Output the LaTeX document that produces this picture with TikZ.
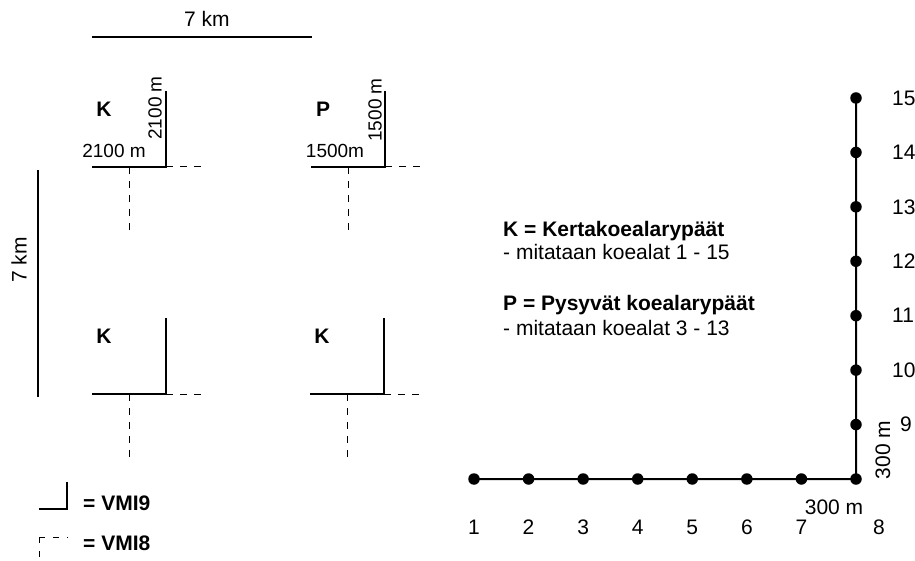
\documentclass[tikz,border=0pt]{standalone}
\usepackage{fontspec}
\setmainfont{Liberation Sans}
\usetikzlibrary{positioning}

\begin{document}
\begin{tikzpicture}[x=1pt,y=-1pt,
                    every node/.style={font=\fontsize{21}{25}\selectfont, inner sep=0pt},
                    vmi9/.style={line width=2.2pt},
                    vmi8/.style={line width=1pt, dash pattern=on 7pt off 7pt},
                    koeala/.style={circle, fill=black, minimum size=11.5pt, inner sep=0pt},
                    tunnus/.style={font=\fontsize{21}{25}\selectfont\bfseries},
                    mitta/.style={font=\fontsize{19}{23}\selectfont}]
  \useasboundingbox (0,0) rectangle (915,561);

    % mittakaavat
    \coordinate (ylavasen) at (92,37);
    \coordinate (ylaoikea) at (312,37);
    \coordinate (vasylos) at (38,170);
    \coordinate (vasalas) at (38,397);
    \draw[line width=1.8pt] (ylavasen) -- (ylaoikea);
    \draw[line width=1.8pt] (vasylos) -- (vasalas);
    \node (km1) at (207,19) {7 km};
    \node[rotate=90] (km2) at (19,260) {7 km};

    % rypaat
    \foreach \x/\y/\nimi/\kirjain in {166/167/kl/K, 385/167/pl/P, 166/394/ka/K, 384/394/pa/K} {
      \coordinate (\nimi) at (\x,\y);
      \draw[vmi9] (\nimi) ++(-74,0) -- (\nimi) -- ++(0,-76);
      \draw[vmi8] (\nimi) -- ++(39,0);
      \draw[vmi8] (\nimi) ++(-37,0) -- ++(0,68);
      \node[tunnus] (\nimi-k) at (\x-62,\y-58) {\kirjain};
    }
    \node[mitta, rotate=90] (kl-pysty) at (155,108) {2100 m};
    \node[mitta, anchor=base] (kl-vaaka) at (114,158) {2100 m};
    \node[mitta, rotate=90] (pl-pysty) at (375,110) {1500 m};
    \node[mitta, anchor=base] (pl-vaaka) at (335,158) {1500m};

    % selitteet
    \coordinate (l9a) at (39,509);
    \coordinate (l9b) at (67,509);
    \coordinate (l9c) at (67,482);
    \draw[vmi9] (l9a) -- (l9b) -- (l9c);
    \node[tunnus, anchor=base west] (vmi9) at (83,510) {= VMI9};
    \coordinate (l8a) at (39,561);
    \coordinate (l8b) at (39,537);
    \coordinate (l8c) at (68,537);
    \draw[vmi8, dash pattern=on 6pt off 8pt] (l8b) -- (l8a);
    \draw[vmi8, dash pattern=on 6pt off 8pt] (l8b) -- (l8c);
    \node[tunnus, anchor=base west] (vmi8) at (83,550) {= VMI8};

    \node[tunnus, anchor=base west] (kselite) at (503,237) {K = Kertakoealarypäät};
    \node[anchor=base west] (kmit) at (503,260) {- mitataan koealat 1 - 15};
    \node[tunnus, anchor=base west] (pselite) at (503,310) {P = Pysyvät koealarypäät};
    \node[anchor=base west] (pmit) at (503,335) {- mitataan koealat 3 - 13};

    % koealat
    \foreach \i in {1,...,8}
      \node[koeala] (p\i) at ({474+(\i-1)*54.57},479) {};
    \foreach \i in {9,...,15}
      \node[koeala] (p\i) at (856,{479-(\i-8)*54.43}) {};
    \draw[line width=2pt] (p1.center) -- (p8.center) -- (p15.center);

    \foreach \i in {1,...,7}
      \node (n\i) at ({474+(\i-1)*54.57},527) {\i};
    \node (n8) at (879,527) {8};
    \node[anchor=west] (n9) [right=38pt of p9] {9};
    \foreach \i in {10,...,15}
      \node[anchor=west] (n\i) [right=30pt of p\i] {\i};
    \node (vaaka300) at (834,507) {300 m};
    \node[rotate=90] (pysty300) at (883,450) {300 m};

\end{tikzpicture}
\end{document}
